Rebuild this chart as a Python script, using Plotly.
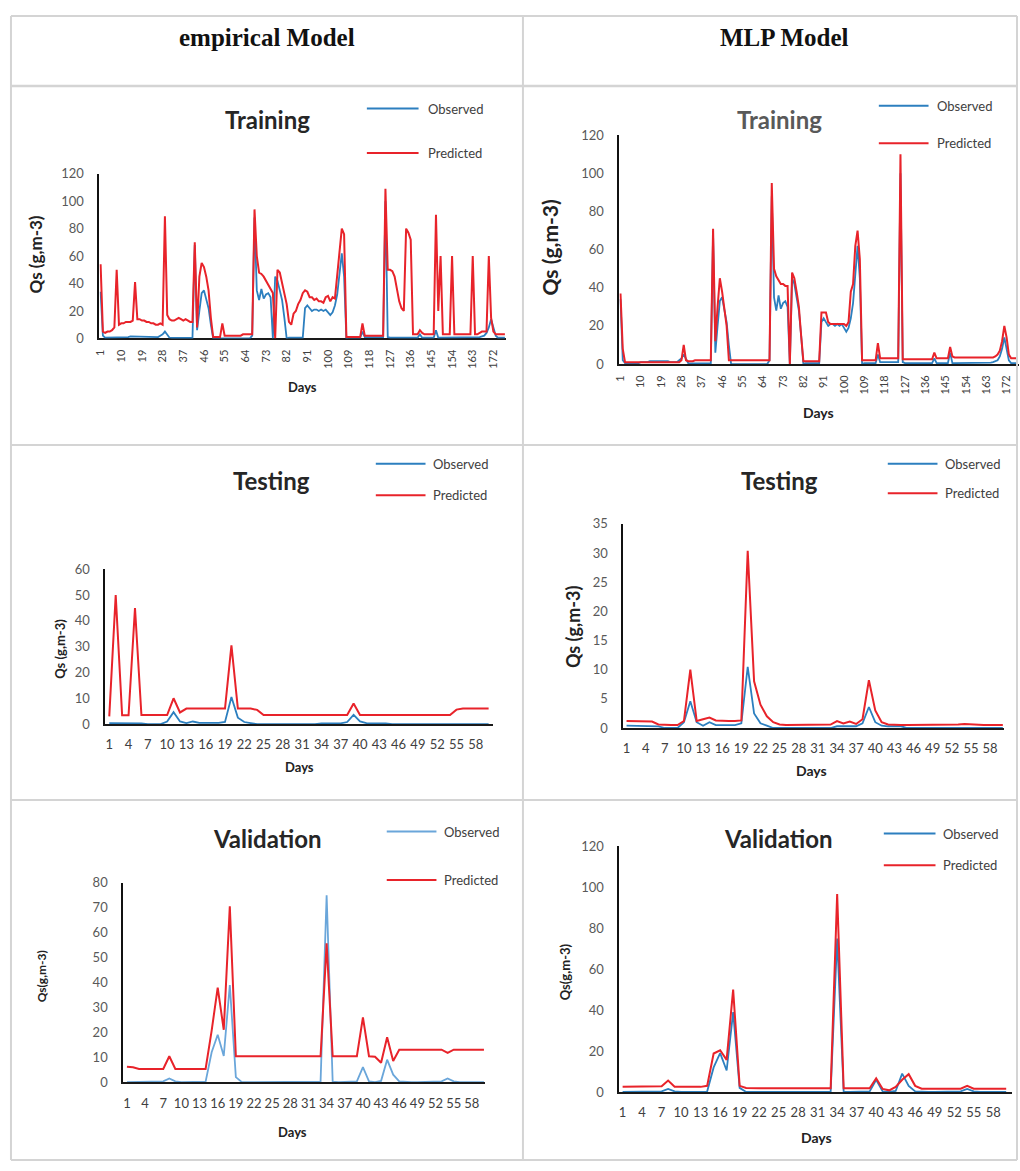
import plotly.graph_objects as go

W, H = 1020, 1171

# ---------------- data ----------------
train_days = list(range(1, 178))
short_days = list(range(1, 61))

train_obs = [34, 2, 0.5, 0.5, 0.5, 0.5, 0.5, 0.5, 0.5, 1,
             1, 1, 1, 1.5, 1.5, 1.5, 1.5, 1.5, 1.5, 1.5,
             1.5, 1.5, 1, 1, 1, 1, 2, 3, 5, 3,
             0.5, 0.3, 0.3, 0.3, 0.3, 0.3, 0.3, 0.3, 0.3, 0.3,
             0.3, 68, 6, 20, 33, 35, 28, 22, 10, 0,
             0, 0, 0, 0, 0, 0, 0, 0, 0, 0,
             0, 0, 0, 0, 0, 0, 2, 88, 35, 28,
             36, 29, 32, 33, 30, 0, 45, 42, 35, 28,
             15, 0, 0.5, 0.5, 0.5, 0.5, 0.5, 0.5, 0.5, 22,
             24, 22, 20, 21, 21, 20, 21, 20, 21, 19,
             17, 19, 24, 32, 48, 62, 45, 0, 0.5, 0.5,
             0.5, 0.5, 0.5, 0.5, 5, 1, 1, 1, 1, 1,
             1, 1, 1, 1, 100, 1, 0.5, 0.5, 0.5, 0.5,
             0.5, 0.5, 0.5, 0.5, 0.5, 0.5, 0.5, 0.5, 0.5, 3,
             0.5, 0.5, 0.5, 0.5, 0.5, 0.5, 6, 0.5, 0.5, 0.5,
             0.5, 0.5, 0.5, 0.5, 0.5, 0.5, 0.5, 0.5, 0.5, 0.5,
             0.5, 0.5, 0.5, 0.8, 0.8, 1, 1.5, 2, 4, 8,
             14, 8, 2, 0.5, 0.5, 0.5, 0.5]

emp_train_pred = [54, 5, 4, 5, 5, 6, 8, 50, 10, 11,
                  11, 12, 12, 12, 13, 41, 14, 14, 13, 13,
                  12, 12, 11, 11, 10, 10, 11, 10, 89, 17,
                  14, 13, 13, 14, 15, 14, 13, 14, 13, 12,
                  12, 70, 8, 45, 55, 52, 45, 35, 15, 1,
                  1, 1, 1, 11, 2, 2, 2, 2, 2, 2,
                  2, 2, 3, 3, 3, 3, 3, 94, 60, 48,
                  47, 45, 42, 40, 36, 33, 0, 50, 48, 40,
                  33, 25, 12, 10, 18, 20, 25, 28, 33, 35,
                  34, 30, 30, 28, 29, 27, 27, 26, 30, 31,
                  27, 30, 29, 45, 60, 80, 76, 1, 1, 1,
                  1, 1, 1, 1, 11, 2, 2, 2, 2, 2,
                  2, 2, 2, 2, 109, 50, 50, 49, 45, 35,
                  27, 22, 20, 80, 77, 72, 3, 3, 3, 6,
                  4, 3, 3, 3, 3, 3, 90, 20, 60, 3,
                  3, 3, 3, 60, 3, 3, 3, 3, 3, 3,
                  3, 3, 60, 3, 3, 4, 5, 5, 5, 60,
                  15, 5, 3, 3, 3, 3, 3]

mlp_train_pred = [37, 8, 1, 1, 1, 1, 1, 1, 1, 1,
                  1, 1, 1, 1, 1, 1, 1, 1, 1, 1,
                  1, 1, 1, 1, 1, 1, 1, 2, 10, 2,
                  1.5, 1.5, 1.5, 2, 2, 2, 2, 2, 2, 2,
                  2, 71, 12, 30, 45, 38, 30, 20, 2, 2,
                  2, 2, 2, 2, 2, 2, 2, 2, 2, 2,
                  2, 2, 2, 2, 2, 2, 2, 95, 50, 46,
                  44, 42, 42, 41, 41, 0, 48, 45, 38, 30,
                  15, 1.5, 1.5, 1.5, 1.5, 1.5, 1.5, 1.5, 1.5, 27,
                  27, 27, 22, 21, 21, 21, 21, 21, 21, 21,
                  20, 22, 38, 42, 62, 70, 55, 2, 2, 2,
                  2, 2, 2, 2, 11, 3, 3, 3, 3, 3,
                  3, 3, 3, 3, 110, 2.5, 2.5, 2.5, 2.5, 2.5,
                  2.5, 2.5, 2.5, 2.5, 2.5, 2.5, 2.5, 2.5, 2.5, 6,
                  3, 3, 3, 3, 3, 3, 9, 4, 3.5, 3.5,
                  3.5, 3.5, 3.5, 3.5, 3.5, 3.5, 3.5, 3.5, 3.5, 3.5,
                  3.5, 3.5, 3.5, 3.5, 3.5, 3.5, 4, 5, 7, 12,
                  20, 14, 5, 3, 3, 3, 3]

test_obs = [0.4, 0.4, 0.4, 0.4, 0.4, 0.3, 0, 0, 0, 1,
            4.6, 1, 0.4, 1, 0.5, 0.5, 0.5, 0.5, 0.8, 10.5,
            2.5, 0.8, 0.4, 0, 0, 0, 0, 0, 0, 0,
            0, 0, 0, 0.3, 0.3, 0.4, 0.3, 0.8, 3.6, 1,
            0.4, 0.3, 0.3, 0.3, 0, 0, 0, 0, 0, 0,
            0, 0, 0, 0, 0, 0, 0, 0, 0, 0]

emp_test_pred = [3, 50, 3.4, 3.4, 45, 3.5, 3.5, 3.5, 3.5, 3.5,
                 10, 4.5, 6, 6, 6, 6, 6, 6, 6, 30.5,
                 6, 6, 6, 5.5, 3.5, 3.5, 3.5, 3.5, 3.5, 3.5,
                 3.5, 3.5, 3.5, 3.5, 3.5, 3.5, 3.5, 3.5, 8, 3.5,
                 3.5, 3.5, 3.5, 3.5, 3.5, 3.5, 3.5, 3.5, 3.5, 3.5,
                 3.5, 3.5, 3.5, 3.5, 5.6, 6, 6, 6, 6, 6]

mlp_test_pred = [1.2, 1.2, 1.2, 1.2, 1.1, 0.6, 0.5, 0.5, 0.5, 1.2,
                 10, 1.2, 1.5, 1.8, 1.3, 1.2, 1.2, 1.2, 1.3, 30.4,
                 8, 4, 2, 1, 0.6, 0.5, 0.5, 0.5, 0.5, 0.5,
                 0.5, 0.5, 0.6, 1.2, 0.8, 1.1, 0.7, 1.5, 8.2, 3,
                 1, 0.6, 0.5, 0.5, 0.5, 0.5, 0.5, 0.5, 0.5, 0.5,
                 0.5, 0.5, 0.6, 0.7, 0.6, 0.5, 0.5, 0.5, 0.5, 0.5]

val_obs = [0, 0, 0, 0, 0, 0, 0.3, 1.5, 0.3, 0,
           0, 0, 0, 0.2, 12, 19, 10.5, 39, 2, 0,
           0, 0, 0, 0, 0, 0, 0, 0, 0, 0,
           0, 0, 0.2, 75, 0.2, 0, 0, 0, 0.3, 6,
           0.3, 0, 0.5, 9, 3, 0.3, 0, 0, 0, 0,
           0, 0, 0.3, 1.5, 0.3, 0, 0, 0, 0, 0]

emp_val_pred = [6.2, 6, 5.3, 5.3, 5.3, 5.3, 5.3, 10.4, 5.3, 5.3,
                5.3, 5.3, 5.3, 5.3, 20.7, 37.9, 21, 70.6, 10.4, 10.4,
                10.4, 10.4, 10.4, 10.4, 10.4, 10.4, 10.4, 10.4, 10.4, 10.4,
                10.4, 10.4, 10.4, 55.7, 10.4, 10.4, 10.4, 10.4, 10.4, 26,
                10.4, 10.2, 7.8, 18, 8.5, 13, 13, 13, 13, 13,
                13, 13, 13, 11.7, 13, 13, 13, 13, 13, 13]

mlp_val_pred = [2.5, 2.5, 2.5, 2.5, 2.5, 2.5, 2.8, 5.6, 2.6, 2.5,
                2.5, 2.5, 2.5, 3, 18.8, 20.4, 15.7, 50, 3, 2,
                1.8, 1.8, 1.8, 1.8, 1.8, 1.8, 1.8, 1.8, 1.8, 1.8,
                1.8, 1.8, 1.8, 96.7, 1.8, 1.8, 1.8, 1.8, 1.8, 6.7,
                1.5, 0.8, 2.5, 6, 8.7, 3, 1.6, 1.6, 1.6, 1.6,
                1.6, 1.6, 1.6, 3, 1.6, 1.6, 1.6, 1.6, 1.6, 1.6]

train_ticks = list(range(1, 178, 9))
short_ticks = list(range(1, 61, 3))

column_titles = ["empirical Model", "MLP Model"]
panel_titles = ["Training", "Training", "Testing", "Testing", "Validation", "Validation"]
series_names = ["Observed", "Predicted"]

# ---------------- styling ----------------
RED = "#E8232A"
BLUE = "#2C7FBF"
BLUE_LIGHT = "#6AA6DA"
TICK = "#595959"
FONT = "Lato"


def xd(a, b):
    return [a / W, b / W]


def yd(top, bottom):
    return [1 - bottom / H, 1 - top / H]


panels = [
    dict(x=(94, 503), y=(168, 335), xr=(0.5, 177.5), yr=(0, 120), dy=20, days=train_days,
         obs=train_obs, pred=emp_train_pred, ticks=train_ticks, angle=-90, tfs=11, yfs=13,
         ob=BLUE, layer="below traces"),
    dict(x=(617, 1019), y=(129, 361), xr=(0.5, 177.5), yr=(0, 120), dy=20, days=train_days,
         obs=train_obs, pred=mlp_train_pred, ticks=train_ticks, angle=-90, tfs=11, yfs=13,
         ob=BLUE, layer="above traces"),
    dict(x=(100, 490), y=(569, 726), xr=(0.4, 60.7), yr=(0, 60), dy=10, days=short_days,
         obs=test_obs, pred=emp_test_pred, ticks=short_ticks, angle=0, tfs=13, yfs=13,
         ob=BLUE, layer="below traces"),
    dict(x=(621, 1004), y=(523, 730), xr=(0.5, 60.2), yr=(0, 35), dy=5, days=short_days,
         obs=test_obs, pred=mlp_test_pred, ticks=short_ticks, angle=0, tfs=13, yfs=13,
         ob=BLUE, layer="above traces"),
    dict(x=(118, 482), y=(887, 1089), xr=(0.4, 60.2), yr=(0, 80), dy=10, days=short_days,
         obs=val_obs, pred=emp_val_pred, ticks=short_ticks, angle=0, tfs=13, yfs=13,
         ob=BLUE_LIGHT, layer="below traces"),
    dict(x=(617, 1012), y=(850, 1099), xr=(0.5, 60.9), yr=(0, 120), dy=20, days=short_days,
         obs=val_obs, pred=mlp_val_pred, ticks=short_ticks, angle=0, tfs=13, yfs=13,
         ob=BLUE, layer="above traces"),
]

fig = go.Figure()
layout_axes = {}
for i, p in enumerate(panels):
    n = "" if i == 0 else str(i + 1)
    xa, ya = "x" + n, "y" + n
    fig.add_trace(go.Scatter(x=p["days"], y=p["obs"], mode="lines", name=series_names[0],
                             line=dict(color=p["ob"], width=1.8), xaxis=xa, yaxis=ya,
                             showlegend=False, hoverinfo="skip"))
    fig.add_trace(go.Scatter(x=p["days"], y=p["pred"], mode="lines", name=series_names[1],
                             line=dict(color=RED, width=2), xaxis=xa, yaxis=ya,
                             showlegend=False, hoverinfo="skip"))
    layout_axes["xaxis" + n] = dict(
        domain=xd(*p["x"]), range=list(p["xr"]), anchor=ya, showgrid=False, zeroline=False,
        showline=True, linecolor="#1a1a1a", linewidth=1.6, layer=p["layer"],
        tickmode="array", tickvals=p["ticks"], ticktext=[str(t) for t in p["ticks"]],
        tickangle=p["angle"], ticks="outside", ticklen=5 if p["angle"] else 8,
        tickcolor="rgba(0,0,0,0)", tickfont=dict(family=FONT, size=p["tfs"], color="#404040"),
        fixedrange=True)
    layout_axes["yaxis" + n] = dict(
        domain=yd(*p["y"]), range=list(p["yr"]), anchor=xa, showgrid=False, zeroline=False,
        showline=True, linecolor="#111111", linewidth=2,
        tickmode="linear", tick0=0, dtick=p["dy"], ticks="outside", ticklen=11,
        tickcolor="rgba(0,0,0,0)", tickfont=dict(family=FONT, size=p["yfs"], color=TICK),
        fixedrange=True)

annotations = []


def ann(text, x, y, size, color="#262626", bold=True, angle=0, family=FONT, xanchor="center"):
    t = "<b>%s</b>" % text if bold else text
    annotations.append(dict(text=t, x=x / W, y=1 - y / H, xref="paper", yref="paper",
                            showarrow=False, xanchor=xanchor, yanchor="middle",
                            textangle=angle, font=dict(family=family, size=size, color=color)))


# column headers
ann(column_titles[0], 263, 30, 25, "#111111", family="Liberation Serif")
ann(column_titles[1], 783, 30, 25, "#111111", family="Liberation Serif")

# panel titles
title_pos = [(263, 113, "#262626"), (778, 113, "#595959"), (267, 479, "#262626"),
             (778, 479, "#262626"), (263, 842, "#262626"), (777, 842, "#262626")]
for t, (x, y, c) in zip(panel_titles, title_pos):
    ann(t, x, y, 24, c)

# y axis titles
ylabels = [("Qs (g,m-3)", 30, 250, 17), ("Qs (g,m-3)", 547, 243, 21),
           ("Qs (g,m-3)", 54, 650, 13), ("Qs (g,m-3)", 571, 627, 18),
           ("Qs(g,m-3)", 36, 982, 12), ("Qs(g,m-3)", 562, 977, 13)]
for t, x, y, s in ylabels:
    ann(t, x, y, s, "#222222", angle=-90)

# x axis titles
days_pos = [(298, 384, 13), (817, 410, 14), (295, 770, 13), (810, 773, 14), (288, 1140, 13), (815, 1145, 14)]
for x, y, s in days_pos:
    ann("Days", x, y, s, "#222222")

# legends
shapes = []
legends = [((363, 415, 102), (363, 415, 147), 422),
           ((878, 928, 99), (878, 928, 137), 934),
           ((372, 422, 462), (372, 422, 494), 428),
           ((887, 937, 462), (887, 937, 492), 943),
           ((383, 433, 835), (383, 433, 884), 439),
           ((883, 935, 837), (883, 935, 869), 941)]
for i, (o, pr, tx) in enumerate(legends):
    ob_col = panels[i]["ob"]
    for (x0, x1, y), col, name in ((o, ob_col, series_names[0]), (pr, RED, series_names[1])):
        shapes.append(dict(type="line", xref="paper", yref="paper", x0=x0 / W, x1=x1 / W,
                           y0=1 - y / H, y1=1 - y / H, line=dict(color=col, width=2)))
        ann(name, tx, y, 13, "#404040", bold=False, xanchor="left")

# table grid lines
GRID = "#d4d4d4"
for y in (8, 79, 443, 803, 1168):
    shapes.append(dict(type="line", xref="paper", yref="paper", x0=5 / W, x1=1017 / W,
                       y0=1 - y / H, y1=1 - y / H, line=dict(color=GRID, width=2.5 if y == 79 else 2)))
for x in (5, 520, 1017):
    shapes.append(dict(type="line", xref="paper", yref="paper", x0=x / W, x1=x / W,
                       y0=1 - 8 / H, y1=1 - 1168 / H, line=dict(color=GRID, width=2)))

fig.update_layout(width=W, height=H, margin=dict(l=0, r=0, t=0, b=0),
                  paper_bgcolor="white", plot_bgcolor="rgba(0,0,0,0)",
                  annotations=annotations, shapes=shapes, showlegend=False, **layout_axes)

fig.write_html("out.html", config={"displayModeBar": False},
               post_script="document.body.style.margin='0px';document.body.style.padding='0px';"
                           "document.documentElement.style.overflow='hidden';")
